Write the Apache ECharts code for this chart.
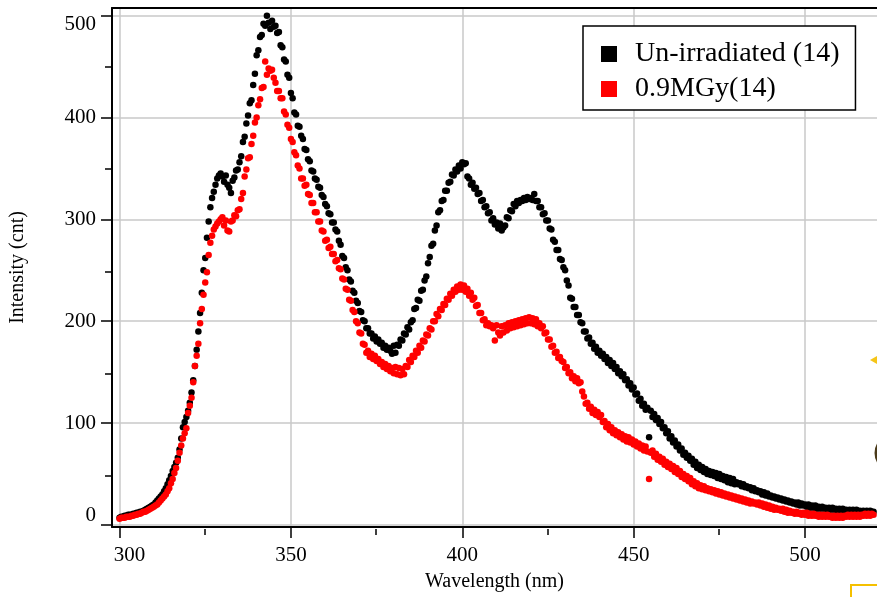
<!DOCTYPE html>
<html>
<head>
<meta charset="utf-8">
<script src="https://cdn.jsdelivr.net/npm/echarts@6/dist/echarts.min.js"></script>
<style>
  html, body { margin: 0; padding: 0; background: #fff; }
  #chart { width: 877px; height: 597px; }
</style>
</head>
<body>
<div id="chart"></div>
<script>
// wavelengths: 300 nm .. 520 nm, one reading every 0.5 nm
var wlStart = 300;
var wlStep = 0.5;

var legendNames = ['Un-irradiated (14)', '0.9MGy(14)'];

// Un-irradiated (14)
var unirradiated = [
  7, 8, 8, 9, 9, 10, 10, 10, 11, 11, 12, 12, 13, 13, 14, 15, 16, 17, 18, 19,
  20, 22, 24, 26, 28, 30, 33, 36, 40, 44, 48, 53, 57, 61, 66, 74, 85, 96, 101, 106,
  112, 120, 130, 142, 156, 172, 190, 208, 228, 250, 262, 282, 298, 312, 321, 327, 334, 340, 343, 345,
  342, 337, 343, 334, 331, 326, 338, 341, 348, 349, 356, 362, 376, 381, 394, 402, 414, 417, 432, 443,
  461, 466, 479, 481, 492, 490, 500, 493, 487, 495, 489, 490, 483, 484, 471, 469, 457, 455, 442, 439,
  424, 419, 405, 403, 392, 391, 382, 379, 369, 368, 359, 357, 348, 347, 340, 339, 332, 331, 324, 322,
  315, 313, 306, 305, 297, 297, 290, 288, 279, 275, 264, 262, 253, 250, 241, 239, 230, 228, 220, 218,
  210, 209, 201, 200, 193, 193, 188, 188, 183, 185, 180, 182, 178, 179, 174, 176, 172, 174, 171, 168,
  176, 169, 177, 176, 182, 181, 188, 187, 194, 192, 199, 201, 212, 213, 221, 220, 230, 231, 240, 244,
  257, 263, 274, 276, 289, 294, 307, 309, 318, 319, 328, 328, 336, 337, 344, 343, 349, 347, 353, 350,
  356, 354, 355, 342, 340, 334, 336, 330, 331, 325, 326, 318, 319, 312, 313, 306, 307, 299, 301, 295,
  297, 291, 296, 289, 292, 294, 302, 301, 309, 308, 315, 313, 318, 316, 319, 318, 321, 319, 322, 320,
  321, 319, 325, 318, 318, 312, 312, 305, 306, 299, 299, 291, 290, 280, 278, 270, 270, 261, 260, 253,
  250, 240, 235, 223, 222, 214, 214, 206, 206, 199, 198, 190, 190, 183, 184, 178, 179, 173, 175, 169,
  171, 166, 168, 163, 165, 159, 162, 156, 159, 153, 155, 149, 151, 146, 148, 142, 143, 137, 139, 133,
  135, 128, 129, 122, 124, 117, 119, 113, 115, 86, 112, 106, 109, 103, 105, 99, 101, 95, 96, 90,
  92, 85, 87, 81, 83, 77, 79, 73, 75, 69, 71, 66, 68, 63, 65, 59, 62, 56, 59, 54,
  57, 52, 55, 50, 53, 49, 52, 48, 51, 46, 50, 45, 48, 44, 47, 42, 46, 41, 45, 40,
  42, 40, 41, 38, 40, 37, 38, 36, 37, 34, 36, 33, 34, 32, 33, 30, 32, 29, 31, 28,
  29, 27, 28, 26, 27, 25, 26, 24, 25, 23, 24, 22, 23, 21, 22, 20, 22, 19, 21, 19,
  20, 18, 20, 17, 19, 17, 19, 16, 18, 16, 18, 16, 17, 15, 17, 15, 17, 15, 16, 14,
  16, 14, 16, 14, 15, 13, 15, 13, 15, 13, 15, 13, 14, 12, 14, 12, 14, 12, 14, 13,
  13
];

// 0.9MGy(14)
var irradiated = [
  6, 7, 7, 7, 8, 8, 8, 9, 9, 10, 10, 11, 11, 12, 13, 13, 14, 15, 16, 17,
  18, 19, 20, 22, 24, 26, 28, 30, 33, 36, 41, 45, 51, 56, 63, 71, 78, 85, 90, 95,
  110, 117, 125, 140, 156, 166, 178, 198, 212, 226, 238, 248, 265, 277, 284, 290, 293, 296, 298, 300,
  302, 294, 299, 289, 288, 298, 299, 304, 303, 309, 310, 320, 326, 342, 349, 360, 361, 374, 382, 395,
  400, 412, 418, 429, 430, 455, 442, 448, 446, 447, 439, 434, 426, 426, 419, 419, 406, 403, 393, 390,
  379, 376, 366, 363, 353, 350, 340, 340, 333, 334, 325, 324, 316, 316, 307, 307, 298, 298, 289, 288,
  279, 280, 272, 273, 266, 266, 259, 260, 252, 251, 242, 241, 232, 231, 221, 220, 211, 209, 200, 198,
  189, 188, 178, 177, 169, 171, 165, 168, 163, 166, 161, 163, 158, 160, 155, 158, 153, 156, 151, 154,
  149, 155, 148, 154, 147, 153, 148, 156, 155, 162, 160, 166, 165, 171, 169, 176, 174, 181, 180, 187,
  186, 193, 192, 200, 200, 207, 205, 212, 211, 217, 216, 222, 221, 227, 225, 231, 229, 234, 231, 236,
  231, 235, 229, 232, 225, 228, 221, 223, 215, 216, 208, 208, 201, 202, 196, 198, 195, 196, 193, 181,
  196, 189, 186, 195, 189, 196, 191, 198, 193, 199, 194, 200, 195, 201, 196, 202, 197, 203, 198, 204,
  198, 203, 197, 202, 195, 198, 193, 195, 188, 189, 182, 182, 175, 176, 169, 170, 164, 165, 161, 160,
  154, 155, 149, 150, 144, 146, 141, 144, 139, 140, 131, 126, 119, 120, 114, 116, 110, 113, 108, 111,
  106, 108, 101, 102, 96, 99, 93, 96, 90, 93, 88, 91, 86, 89, 84, 87, 82, 86, 81, 84,
  79, 82, 77, 80, 75, 78, 73, 77, 72, 45, 71, 73, 67, 70, 64, 67, 62, 65, 59, 62,
  57, 60, 55, 58, 52, 56, 50, 53, 47, 50, 45, 48, 43, 46, 40, 43, 38, 41, 36, 39,
  35, 38, 34, 36, 33, 35, 32, 34, 31, 33, 30, 32, 29, 31, 28, 30, 27, 29, 26, 28,
  25, 27, 24, 26, 23, 25, 22, 24, 21, 23, 21, 22, 20, 22, 19, 21, 18, 20, 17, 19,
  16, 18, 15, 17, 15, 16, 14, 16, 13, 15, 12, 14, 12, 13, 11, 13, 11, 12, 10, 12,
  10, 12, 9, 11, 9, 11, 9, 10, 8, 10, 8, 10, 8, 10, 8, 9, 7, 9, 7, 9,
  7, 9, 7, 9, 8, 10, 8, 10, 8, 10, 8, 10, 8, 10, 9, 11, 9, 11, 9, 11,
  10
];

var xMajorTicks = [300, 350, 400, 450, 500];
var xMinorTicks = [325, 375, 425, 475];
var yMajorTicks = [0, 100, 200, 300, 400, 500];
var yMinorTicks = [50, 150, 250, 350, 450];

var font = 'Liberation Serif';
var xMin = 297.8, xMax = 521;
var yMin = -2, yMax = 507.5;

function toPoints(values) {
  return values.map(function (v, i) { return [wlStart + i * wlStep, v]; });
}

var chart = echarts.init(document.getElementById('chart'));

var gridBox = { left: 111, top: 8, right: 0, bottom: 68 };
var txt = { fontFamily: font, fontSize: 21, color: '#000' };

var option = {
  animation: false,
  backgroundColor: '#fff',
  grid: [Object.assign({}, gridBox), Object.assign({}, gridBox)],
  legend: {
    orient: 'vertical',
    left: 583,
    top: 26,
    padding: [14, 16, 7, 18],
    itemGap: 7,
    itemWidth: 16,
    itemHeight: 16,
    icon: 'rect',
    borderColor: '#000',
    borderWidth: 1.5,
    backgroundColor: '#fff',
    textStyle: { fontFamily: font, fontSize: 28, color: '#000', padding: [0, 0, 0, 13] },
    data: legendNames
  },
  xAxis: [
    {
      type: 'value', gridIndex: 0, position: 'bottom', min: xMin, max: xMax,
      name: 'Wavelength (nm)', nameLocation: 'middle', nameGap: 45,
      nameTextStyle: { fontFamily: font, fontSize: 20, color: '#000' },
      axisLine: { show: true, onZero: false, lineStyle: { color: '#000', width: 2 } },
      axisTick: { show: true, length: 11, customValues: xMajorTicks, lineStyle: { color: '#000', width: 1.5 } },
      axisLabel: {
        customValues: xMajorTicks, margin: 18, fontFamily: font, fontSize: 21, color: '#000',
        formatter: function (v) { return v === 300 ? '{first|300}' : String(v); },
        rich: { first: Object.assign({ padding: [0, 0, 0, 20] }, txt) }
      },
      splitLine: { show: true, lineStyle: { color: '#c8c8c8', width: 1.5 } }
    },
    {
      // top frame line
      type: 'value', gridIndex: 0, position: 'top', min: xMin, max: xMax,
      axisLine: { show: true, onZero: false, lineStyle: { color: '#000', width: 2 } },
      axisTick: { show: false }, axisLabel: { show: false }, splitLine: { show: false }
    },
    {
      // minor ticks
      type: 'value', gridIndex: 1, position: 'bottom', min: xMin, max: xMax,
      axisLine: { show: false, onZero: false },
      axisTick: { show: true, length: 6, customValues: xMinorTicks, lineStyle: { color: '#000', width: 1.5 } },
      axisLabel: { show: false }, splitLine: { show: false }
    }
  ],
  yAxis: [
    {
      type: 'value', gridIndex: 0, position: 'left', min: yMin, max: yMax,
      name: 'Intensity (cnt)', nameLocation: 'middle', nameGap: 84, nameRotate: 90,
      nameTextStyle: { fontFamily: font, fontSize: 20, color: '#000' },
      axisLine: { show: true, onZero: false, lineStyle: { color: '#000', width: 2 } },
      axisTick: { show: true, length: 11, customValues: yMajorTicks, lineStyle: { color: '#000', width: 1.5 } },
      axisLabel: {
        customValues: yMajorTicks, margin: 16, fontFamily: font, fontSize: 21, color: '#000',
        formatter: function (v) {
          if (v === 0) return '{lo|0}';
          if (v === 500) return '{hi|500}';
          return String(v);
        },
        rich: {
          lo: Object.assign({ padding: [0, 0, 18, 0] }, txt),
          hi: Object.assign({ padding: [18, 0, 0, 0] }, txt)
        }
      },
      splitLine: { show: true, lineStyle: { color: '#c8c8c8', width: 1.5 } }
    },
    {
      type: 'value', gridIndex: 1, position: 'left', min: yMin, max: yMax,
      axisLine: { show: false, onZero: false },
      axisTick: { show: true, length: 6, customValues: yMinorTicks, lineStyle: { color: '#000', width: 1.5 } },
      axisLabel: { show: false }, splitLine: { show: false }
    }
  ],
  series: [
    {
      name: legendNames[0], type: 'scatter', xAxisIndex: 0, yAxisIndex: 0,
      symbol: 'circle', symbolSize: 6.5, itemStyle: { color: '#000', opacity: 1 },
      data: toPoints(unirradiated)
    },
    {
      name: legendNames[1], type: 'scatter', xAxisIndex: 0, yAxisIndex: 0,
      symbol: 'circle', symbolSize: 6.5, itemStyle: { color: '#ff0000', opacity: 1 },
      data: toPoints(irradiated)
    }
  ],
  graphic: [
    // spell-check style underline under "MGy" in the legend
    { type: 'line', shape: { x1: 673, y1: 100, x2: 735, y2: 100 }, style: { stroke: '#9a9a9a', lineWidth: 1 } },
    // cropped-off marks at the right edge
    { type: 'polygon', shape: { points: [[870, 360], [877, 356], [877, 364]] }, style: { fill: '#f5c518' } },
    { type: 'ellipse', shape: { cx: 888, cy: 453, rx: 12, ry: 15 }, style: { fill: 'none', stroke: '#4a3a1a', lineWidth: 3 } },
    { type: 'polyline', shape: { points: [[877, 585], [851, 585], [851, 597]] }, style: { fill: 'none', stroke: '#f5c000', lineWidth: 2 } }
  ]
};

chart.setOption(option);
</script>
</body>
</html>
